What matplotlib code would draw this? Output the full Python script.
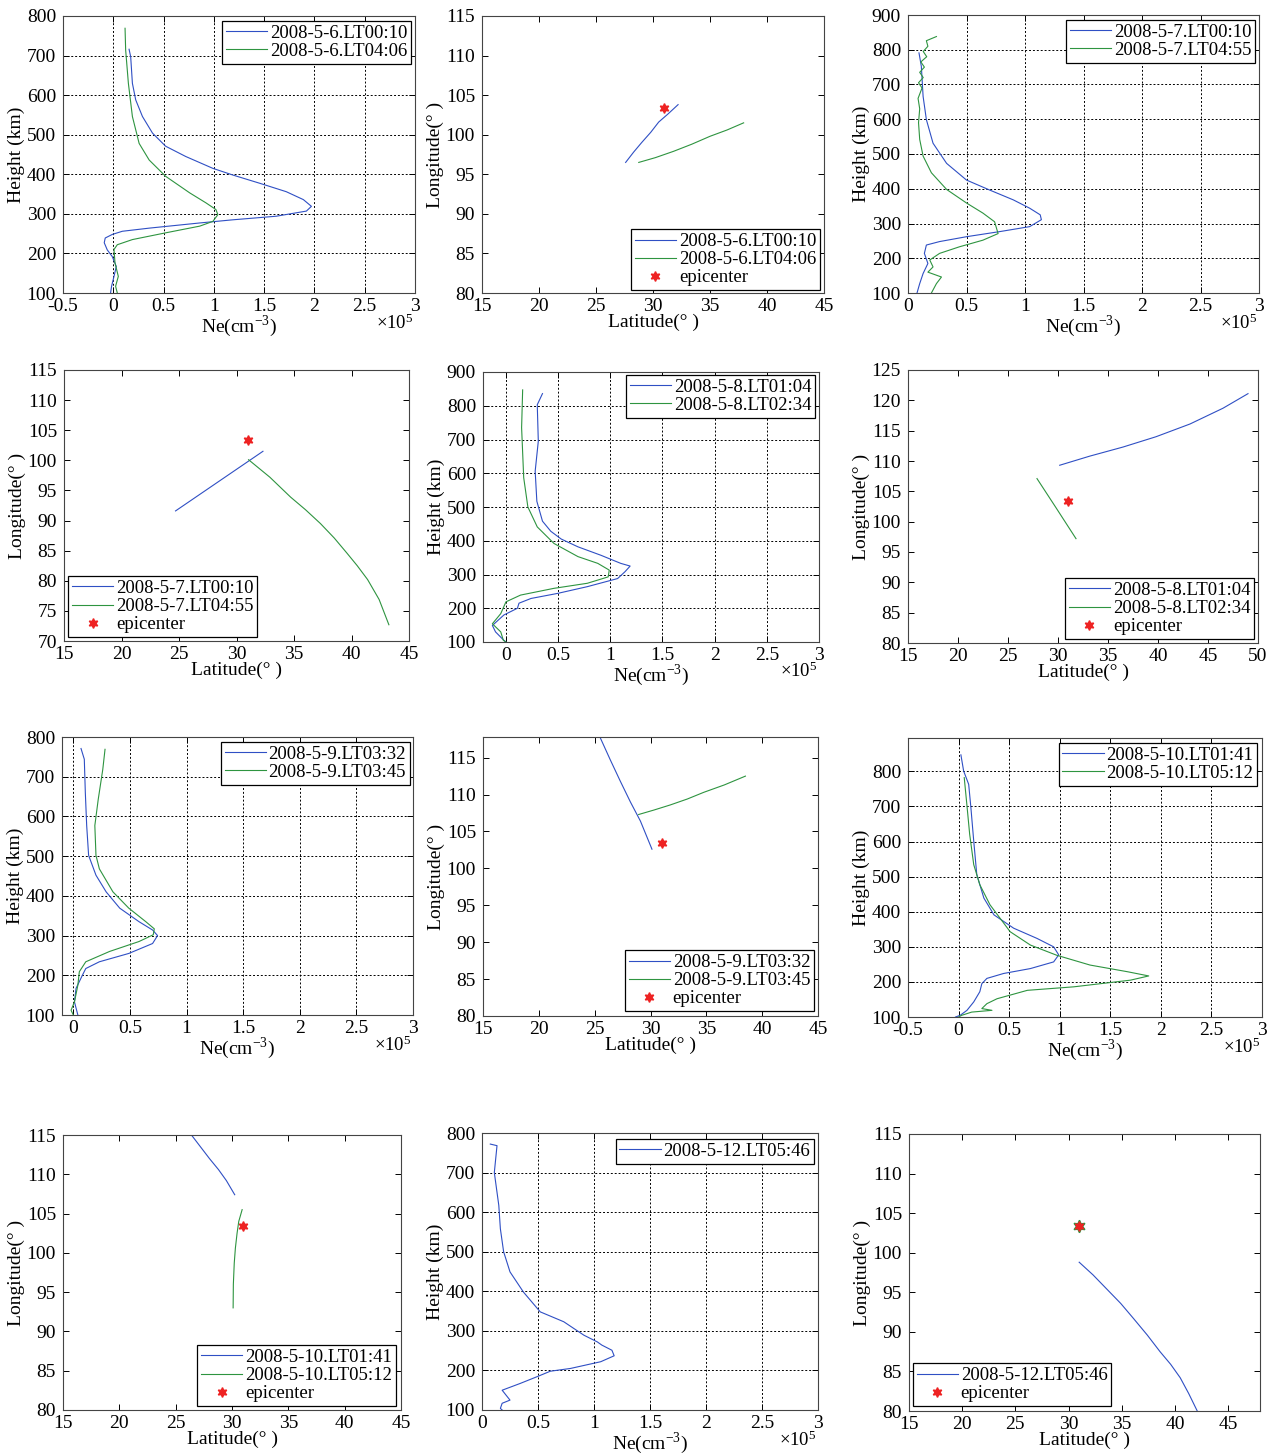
import numpy as np
import matplotlib.pyplot as plt

plt.rcParams['font.family'] = ['Liberation Serif', 'DejaVu Serif']
plt.rcParams['mathtext.fontset'] = 'custom'
plt.rcParams['mathtext.rm'] = 'Liberation Serif'
plt.rcParams['axes.unicode_minus'] = False
plt.rcParams['font.size'] = 14

BLUE = '#2f4fc4'
GREEN = '#2e9440'

# epicenter (Wenchuan)
epi_lat = 31.0
epi_lon = 103.4

# ---------------- Ne profiles (Ne in 1e5 cm^-3, height in km) ----------------
p1_blue_ne = [0.157, 0.173, 0.19, 0.223, 0.29, 0.39, 0.52, 0.72, 0.99, 1.19, 1.46, 1.72, 1.89, 1.97, 1.92,
              1.62, 1.19, 0.86, 0.36, 0.09, -0.01, -0.08, -0.09, -0.06, -0.01, 0.03, 0.007, -0.017, -0.027]
p1_blue_h = [716, 697, 630, 588, 546, 504, 471, 445, 415, 398, 377, 356, 336, 319, 307,
             294, 285, 277, 264, 256, 248, 239, 227, 209, 192, 167, 142, 117, 100]
p1_green_ne = [0.117, 0.123, 0.15, 0.19, 0.257, 0.357, 0.52, 0.76, 0.92, 1.02, 1.04, 0.99, 0.86, 0.52,
               0.19, 0.04, 0.007, 0.017, 0.05, 0.023, 0.04]
p1_green_h = [769, 714, 630, 546, 478, 436, 395, 353, 328, 311, 298, 281, 269, 252,
              235, 222, 210, 176, 142, 117, 100]

p3_blue_ne = [0.094, 0.114, 0.129, 0.157, 0.214, 0.33, 0.5, 0.70, 0.9, 1.04, 1.13, 1.14, 1.04, 0.79,
              0.5, 0.27, 0.157, 0.14, 0.17, 0.129, 0.10, 0.077]
p3_blue_h = [791, 752, 666, 599, 531, 473, 425, 396, 368, 344, 325, 311, 291, 277,
             262, 248, 238, 214, 185, 156, 127, 100]
p3_green_ne = [0.243, 0.20, 0.157, 0.17, 0.13, 0.16, 0.11, 0.14, 0.10, 0.13, 0.09, 0.12, 0.086, 0.10,
               0.09, 0.10, 0.129, 0.2, 0.33, 0.5, 0.64, 0.74, 0.77, 0.64, 0.44, 0.27, 0.186, 0.214,
               0.17, 0.286, 0.243, 0.2]
p3_green_h = [838, 832, 826, 810, 795, 780, 765, 750, 735, 720, 705, 690, 660, 630,
              590, 542, 494, 446, 398, 359, 330, 305, 271, 252, 233, 214, 195, 175,
              160, 146, 127, 100]

p5_blue_ne = [0.35, 0.30, 0.31, 0.28, 0.296, 0.35, 0.43, 0.53, 0.69, 0.91, 1.1, 1.19, 1.14, 1.07,
              0.78, 0.495, 0.24, 0.125, 0.11, -0.02, -0.13, -0.10, -0.02, 0.0]
p5_blue_h = [836, 803, 695, 606, 517, 458, 428, 405, 382, 357, 333, 325, 308, 288,
             264, 244, 229, 215, 200, 180, 149, 130, 105, 100]
p5_green_ne = [0.16, 0.15, 0.17, 0.21, 0.30, 0.46, 0.69, 0.88, 0.99, 0.98, 0.78, 0.46, 0.14, 0.0,
               -0.05, -0.13, -0.05, -0.025, 0.0]
p5_green_h = [847, 735, 587, 500, 441, 392, 353, 333, 313, 293, 274, 259, 239, 219,
              184, 154, 130, 105, 100]

p7_blue_ne = [0.068, 0.097, 0.106, 0.118, 0.135, 0.2, 0.29, 0.41, 0.58, 0.70, 0.744, 0.70, 0.49,
              0.23, 0.11, 0.08, 0.024, 0.01, 0.04]
p7_blue_h = [771, 744, 660, 577, 502, 452, 410, 369, 335, 314, 300, 280, 255,
             234, 217, 200, 167, 133, 100]
p7_green_ne = [0.28, 0.26, 0.22, 0.19, 0.2, 0.23, 0.35, 0.49, 0.64, 0.715, 0.706, 0.58, 0.32,
               0.11, 0.053, 0.04, 0.01, -0.02, 0.0]
p7_green_h = [769, 718, 643, 577, 502, 468, 410, 369, 335, 317, 302, 285, 260,
              234, 209, 175, 133, 112, 100]

p9_blue_ne = [0.023, 0.05, 0.1, 0.122, 0.15, 0.18, 0.25, 0.35, 0.545, 0.775, 0.94, 0.99, 0.94,
              0.71, 0.445, 0.28, 0.23, 0.21, 0.15, 0.083, 0.017, -0.03]
p9_blue_h = [847, 801, 763, 696, 601, 506, 439, 391, 353, 324, 300, 277, 257,
             238, 224, 210, 195, 172, 143, 119, 105, 100]
p9_green_ne = [0.056, 0.083, 0.11, 0.15, 0.21, 0.31, 0.51, 0.71, 0.97, 1.30, 1.67, 1.88, 1.70,
               1.14, 0.68, 0.38, 0.28, 0.23, 0.33, 0.13, 0.033, 0.0]
p9_green_h = [782, 702, 620, 534, 477, 420, 343, 305, 276, 248, 229, 217, 205,
              186, 176, 152, 138, 124, 119, 114, 105, 100]

p11_blue_ne = [0.074, 0.134, 0.11, 0.15, 0.164, 0.193, 0.25, 0.37, 0.52, 0.73, 0.91, 1.03, 1.07,
               1.16, 1.18, 1.06, 0.79, 0.61, 0.49, 0.34, 0.18, 0.25, 0.18, 0.164, 0.18]
p11_blue_h = [772, 768, 700, 617, 558, 500, 449, 398, 348, 323, 289, 272, 264,
              251, 237, 222, 205, 198, 184, 167, 150, 125, 117, 104, 100]

# ---------------- satellite tracks (latitude, longitude) ----------------
p2_blue_lat = [27.6, 28.3, 29.0, 29.8, 30.5, 31.3, 32.2]
p2_blue_lon = [96.5, 97.8, 99.0, 100.3, 101.6, 102.6, 103.8]
p2_green_lat = [28.75, 30.2, 31.8, 33.4, 35.0, 36.5, 37.95]
p2_green_lon = [96.5, 97.1, 97.9, 98.8, 99.8, 100.6, 101.5]

p4_blue_lat = [24.7, 32.3]
p4_blue_lon = [91.6, 101.5]
p4_green_lat = [31.05, 32.9, 34.7, 36.0, 37.3, 38.5, 39.6, 40.5, 41.4, 42.4, 43.25]
p4_green_lon = [100.1, 97.2, 93.9, 91.8, 89.5, 87.1, 84.6, 82.5, 80.2, 76.9, 72.7]

p6_blue_lat = [30.17, 33.17, 36.5, 39.8, 43.2, 46.5, 49.0]
p6_blue_lon = [109.3, 110.8, 112.3, 114.0, 116.1, 118.7, 121.1]
p6_green_lat = [27.9, 29.8, 31.8]
p6_green_lon = [107.1, 102.3, 97.2]

p8_blue_lat = [25.5, 26.4, 27.3, 28.2, 29.1, 30.13]
p8_blue_lon = [117.7, 114.7, 111.8, 109.0, 106.4, 102.6]
p8_green_lat = [28.94, 30.3, 31.78, 33.3, 34.76, 36.6, 38.5]
p8_green_lon = [107.3, 107.9, 108.6, 109.4, 110.3, 111.3, 112.5]

p10_blue_lat = [26.4, 27.2, 28.0, 28.8, 29.5, 30.24]
p10_blue_lon = [115.0, 113.5, 112.0, 110.6, 109.2, 107.4]
p10_green_lat = [30.9, 30.6, 30.45, 30.3, 30.2, 30.12, 30.1]
p10_green_lon = [105.5, 104.0, 102.5, 100.6, 98.7, 96.0, 93.0]

p12_blue_lat = [31.0, 32.3, 33.6, 34.9, 36.1, 37.4, 38.6, 39.6, 40.5, 41.3, 42.1]
p12_blue_lon = [98.8, 97.2, 95.4, 93.6, 91.7, 89.6, 87.5, 85.9, 84.2, 82.2, 80.0]

# legend labels
lab_6 = ['2008-5-6.LT00:10', '2008-5-6.LT04:06']
lab_7 = ['2008-5-7.LT00:10', '2008-5-7.LT04:55']
lab_8 = ['2008-5-8.LT01:04', '2008-5-8.LT02:34']
lab_9 = ['2008-5-9.LT03:32', '2008-5-9.LT03:45']
lab_10 = ['2008-5-10.LT01:41', '2008-5-10.LT05:12']
lab_12 = ['2008-5-12.LT05:46']

W, H = 1268, 1455
fig = plt.figure(figsize=(W / 100, H / 100), dpi=100)

STAR6 = (6, 1, 0)   # six pointed star like matlab's '*'


def add_ax(l, t, r, b):
    # pixel box -> figure fraction
    ax = fig.add_axes([l / W, 1 - b / H, (r - l) / W, (b - t) / H])
    ax.tick_params(direction='in', top=True, right=True, length=4, width=0.7, labelsize=14)
    ax.tick_params(axis='x', pad=3.5)
    ax.tick_params(axis='y', pad=5)
    for s in ax.spines.values():
        s.set_color('#444444')
        s.set_linewidth(0.8)
    return ax


def leg(ax, loc, anchor):
    lg = ax.legend(loc=loc, bbox_to_anchor=anchor, fontsize=13.5, frameon=True, fancybox=False,
                   framealpha=1, edgecolor='black', borderpad=0.2, labelspacing=0.05,
                   handlelength=2.2, handletextpad=0.15, borderaxespad=0, numpoints=1)
    lg.get_frame().set_linewidth(0.9)


def profile(ax, curves, labels, xlim, ylim, xticks, yticks, anchor):
    colors = [BLUE, GREEN]
    for (ne, h), lab, c in zip(curves, labels, colors):
        ax.plot(ne, h, color=c, lw=0.8, label=lab)
    ax.set_xlim(*xlim)
    ax.set_ylim(*ylim)
    ax.set_xticks(xticks)
    ax.set_yticks(yticks)
    ax.set_xticklabels(['%g' % v for v in xticks])
    ax.grid(True, color='black', linestyle=(0, (2, 2)), linewidth=0.7)
    ax.set_xlabel(r'Ne(cm$^{\mathregular{-3}}$)', labelpad=-1)
    ax.set_ylabel('Height (km)', labelpad=1)
    ax.text(0.995, -0.11, r'$\times\mathregular{10^5}$', transform=ax.transAxes,
            ha='right', va='center', fontsize=13.5)
    leg(ax, 'upper right', anchor)


def track(ax, curves, labels, xlim, ylim, xticks, yticks, loc, anchor, green_star=False):
    colors = [BLUE, GREEN]
    for (la, lo), lab, c in zip(curves, labels, colors):
        ax.plot(la, lo, color=c, lw=0.8, label=lab)
    if green_star:
        ax.plot([epi_lat], [epi_lon], marker=STAR6, color=GREEN, ms=9, ls='none')
    ax.plot([epi_lat], [epi_lon], marker=STAR6, color='#ee2222', ms=7, ls='none', label='epicenter')
    ax.set_xlim(*xlim)
    ax.set_ylim(*ylim)
    ax.set_xticks(xticks)
    ax.set_yticks(yticks)
    ax.set_xlabel('Latitude(° )', labelpad=-1)
    ax.set_ylabel('Longitude(° )', labelpad=1)
    leg(ax, loc, anchor)


ne_t = [-0.5, 0, 0.5, 1, 1.5, 2, 2.5, 3]
ne_t0 = [0, 0.5, 1, 1.5, 2, 2.5, 3]
h8 = list(range(100, 801, 100))
h9 = list(range(100, 901, 100))
lat45 = list(range(15, 46, 5))

# row 1
ax = add_ax(63, 16, 415, 293)
profile(ax, [(p1_blue_ne, p1_blue_h), (p1_green_ne, p1_green_h)], lab_6,
        (-0.5, 3), (100, 800), ne_t, h8, (0.989, 0.982))
ax = add_ax(482, 16, 824, 293)
track(ax, [(p2_blue_lat, p2_blue_lon), (p2_green_lat, p2_green_lon)], lab_6,
      (15, 45), (80, 115), lat45, list(range(80, 116, 5)), 'lower right', (0.988, 0.011))
ax = add_ax(908, 15, 1259, 293)
profile(ax, [(p3_blue_ne, p3_blue_h), (p3_green_ne, p3_green_h)], lab_7,
        (0, 3), (100, 900), ne_t0, h9, (0.989, 0.982))

# row 2
ax = add_ax(64, 370, 409, 641)
track(ax, [(p4_blue_lat, p4_blue_lon), (p4_green_lat, p4_green_lon)], lab_7,
      (15, 45), (70, 115), lat45, list(range(70, 116, 5)), 'lower left', (0.012, 0.015))
ax = add_ax(483, 372, 819, 642)
profile(ax, [(p5_blue_ne, p5_blue_h), (p5_green_ne, p5_green_h)], lab_8,
        (-0.22, 3), (100, 900), ne_t0, h9, (0.988, 0.989))
ax = add_ax(908, 370, 1258, 643)
track(ax, [(p6_blue_lat, p6_blue_lon), (p6_green_lat, p6_green_lon)], lab_8,
      (15, 50), (80, 125), list(range(15, 51, 5)), list(range(80, 126, 5)), 'lower right', (0.989, 0.015))

# row 3
ax = add_ax(62, 737, 413, 1015)
profile(ax, [(p7_blue_ne, p7_blue_h), (p7_green_ne, p7_green_h)], lab_9,
        (-0.1, 3), (100, 800), ne_t0, h8, (0.991, 0.982))
ax = add_ax(483, 737, 818, 1016)
track(ax, [(p8_blue_lat, p8_blue_lon), (p8_green_lat, p8_green_lon)], lab_9,
      (15, 45), (80, 117.8), lat45, list(range(80, 116, 5)), 'lower right', (0.988, 0.018))
ax = add_ax(908, 738, 1262, 1017)
profile(ax, [(p9_blue_ne, p9_blue_h), (p9_green_ne, p9_green_h)], lab_10,
        (-0.5, 3), (100, 895), ne_t, h8, (0.986, 0.982))

# row 4
ax = add_ax(63, 1135, 401, 1410)
track(ax, [(p10_blue_lat, p10_blue_lon), (p10_green_lat, p10_green_lon)], lab_10,
      (15, 45), (80, 115), lat45, list(range(80, 116, 5)), 'lower right', (0.985, 0.015))
ax = add_ax(482, 1133, 818, 1410)
profile(ax, [(p11_blue_ne, p11_blue_h)], lab_12,
        (0, 3), (100, 800), ne_t0, h8, (0.988, 0.978))
ax = add_ax(909, 1134, 1260, 1411)
track(ax, [(p12_blue_lat, p12_blue_lon)], lab_12,
      (15, 48), (80, 115), lat45, list(range(80, 116, 5)), 'lower left', (0.011, 0.018), green_star=True)

fig.savefig('out.png', dpi=100, facecolor='white')
